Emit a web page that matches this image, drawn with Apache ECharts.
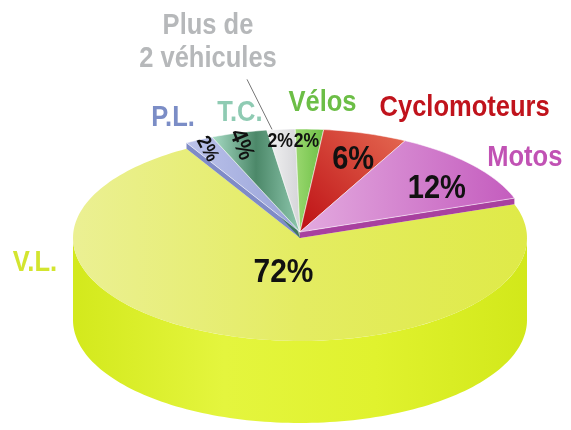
<!DOCTYPE html>
<html>
<head>
<meta charset="utf-8">
<script src="https://cdn.jsdelivr.net/npm/echarts@6/dist/echarts.min.js"></script>
<style>
html, body { margin: 0; padding: 0; background: #fff; }
#main { width: 571px; height: 430px; }
</style>
</head>
<body>
<div id="main"></div>
<script>
/* Répartition par type de véhicule - camembert 3D */
var categories = ['P.L.', 'T.C.', 'Plus de\n2 véhicules', 'Vélos', 'Cyclomoteurs', 'Motos', 'V.L.'];
var shares = [2, 4, 2, 2, 6, 12, 72];

// cumul pour placer chaque part (sens horaire)
var cumStart = [];
(function () {
	var s = 0;
	for (var i = 0; i < shares.length; i++) { cumStart.push(s); s += shares[i]; }
})();

// géométrie du disque
var geo = { cx: 300, cy: 238, rx: 227, ry: 103, depth: 82, start: 120 };

// styles (couleurs, décalages des étiquettes)
var styles = [
	{ top: ['#bcc3ea', '#97a2d8'], wall: '#7f8bc6', text: '#7b8dc6', lift: 6, lab: [-26, -22], k: 0.9, size: 20, rot: -62, off: [-2, 0] },
	{ top: ['#a8dcc5', '#4c8869', '#8ec8ae'], wall: '#3f7a5d', text: '#8fcbb3', lift: 6, lab: [1, -20], k: 0.88, size: 24, rot: -68, off: [-5, 0] },
	{ top: ['#f4f4f4', '#d4d4d8'], wall: '#b9b9bd', text: '#b6b8ba', lift: 6, lab: [-73, -87], k: 0.88, size: 20, rot: 0, off: [-3, 0], leader: [[-9, 0], [-34, -50]] },
	{ top: ['#9bd870', '#6cbf45'], wall: '#4f9a30', text: '#6cbe46', lift: 6, lab: [13, -26], k: 0.88, size: 20, rot: 0, off: [-2, 0] },
	{ top: ['#bd0f14', '#e56a52'], wall: '#9c0a0e', text: '#c0131c', lift: 6, lab: [99, -25], k: 0.75, size: 33, rot: 0, off: [4, 2] },
	{ top: ['#e3aadf', '#c45cbe'], wall: '#a8409f', text: '#c152b4', lift: 6, lab: [53, -7], k: 0.75, size: 33, rot: 0, off: [8, 7] },
	{ top: ['#ebf093', '#e4ec62', '#dfea48'], wall: '#dff22a', text: '#d3e52f', lift: 0, lab: [-186, -72], k: 0.36, size: 34, rot: 0, off: [12, 0] }
];

var FONT = '"Liberation Sans", Arial, sans-serif';
var NARROW = 0.88;

function pt(deg, k, dy) {
	var r = deg * Math.PI / 180;
	return [geo.cx + geo.rx * k * Math.cos(r), geo.cy - geo.ry * k * Math.sin(r) + (dy || 0)];
}
function arc(a0, a1, dy) {
	var n = Math.max(2, Math.ceil(Math.abs(a1 - a0) / 1.5));
	var pts = [];
	for (var i = 0; i <= n; i++) pts.push(pt(a0 + (a1 - a0) * i / n, 1, dy));
	return pts;
}
function grad(cols, diag) {
	var stops = cols.map(function (c, i) { return { offset: i / (cols.length - 1), color: c }; });
	return { type: 'linear', x: 0, y: diag ? 1 : 0, x2: 1, y2: 0, colorStops: stops };
}

function renderSlice(params, api) {
	var i = params.dataIndex;
	var st = styles[i];
	var a0 = geo.start - cumStart[i] * 3.6;
	var a1 = a0 - api.value(0) * 3.6;
	var mid = (a0 + a1) / 2;
	var up = -st.lift;
	var raised = st.lift > 0;
	var kids = [];

	// paroi extérieure visible (face avant)
	for (var k = -2; k <= 1; k++) {
		var lo = Math.max(a1, -180 + 360 * k), hi = Math.min(a0, 360 * k);
		if (hi > lo) {
			var pts = arc(hi, lo, up).concat(arc(lo, hi, geo.depth));
			kids.push({
				type: 'polygon', z2: raised ? 3 : 1, shape: { points: pts },
				style: { fill: grad(['#d3e91c', '#e4f53e', '#e0f22e', '#d2e81a']) }
			});
		}
	}
	// parois radiales des parts surélevées
	if (raised) {
		[a0, a1].forEach(function (a) {
			var c0 = pt(a, 0, up), r0 = pt(a, 1, up), r1 = pt(a, 1, 0), c1 = pt(a, 0, 0);
			kids.push({ type: 'polygon', z2: 3, shape: { points: [c0, r0, r1, c1] }, style: { fill: st.wall } });
		});
	}
	// dessus
	var topPts = [pt(0, 0, up)].concat(arc(a0, a1, up));
	kids.push({
		type: 'polygon', z2: raised ? 4 : 2, shape: { points: topPts },
		style: {
			fill: grad(st.top, i === 4),
			stroke: raised ? 'rgba(255,255,255,0.55)' : null, lineWidth: raised ? 1 : 0
		}
	});

	// pourcentage
	var pp = pt(mid, st.k, up);
	kids.push({
		type: 'text', z2: 10, x: pp[0] + st.off[0], y: pp[1] + st.off[1],
		rotation: st.rot * Math.PI / 180, scaleX: NARROW,
		style: {
			text: api.value(0) + '%', x: 0, y: 0, fill: '#111',
			font: 'bold ' + st.size + 'px ' + FONT, align: 'center', verticalAlign: 'middle'
		}
	});

	// nom de la catégorie
	var rim = pt(mid, 1, up);
	kids.push({
		type: 'text', z2: 10, x: rim[0] + st.lab[0], y: rim[1] + st.lab[1], scaleX: NARROW,
		style: {
			text: categories[i], x: 0, y: 0, fill: st.text,
			font: 'bold 29px ' + FONT, lineHeight: 33, align: 'center', verticalAlign: 'middle'
		}
	});
	if (st.leader) {
		kids.push({
			type: 'line', z2: 9,
			shape: { x1: rim[0] + st.leader[0][0], y1: rim[1] + st.leader[0][1], x2: rim[0] + st.leader[1][0], y2: rim[1] + st.leader[1][1] },
			style: { stroke: '#777', lineWidth: 1 }
		});
	}
	return { type: 'group', children: kids };
}

var myChart = echarts.init(document.getElementById('main'));
var option = {
	backgroundColor: '#fff',
	animation: false,
	series: [{
		type: 'custom',
		coordinateSystem: 'none',
		renderItem: renderSlice,
		data: shares.map(function (v, i) { return { name: categories[i], value: [v] }; })
	}]
};
myChart.setOption(option);
</script>
</body>
</html>
